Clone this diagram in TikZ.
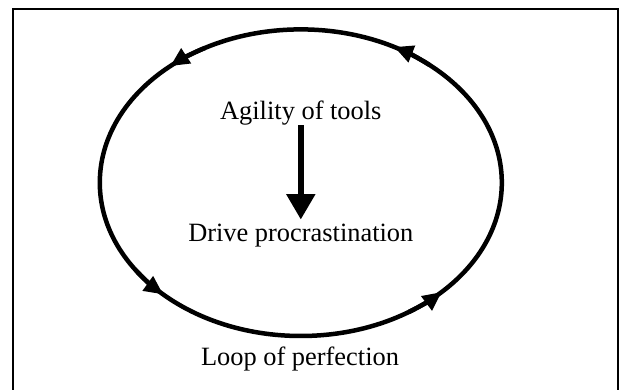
\documentclass[tikz,border=0pt]{standalone}
\usepackage{fontspec}
\setmainfont{Liberation Serif}
\usetikzlibrary{arrows.meta}
\begin{document}
\begin{tikzpicture}[x=1pt,y=1pt,
  lbl/.style={inner sep=0pt, anchor=base, font=\fontsize{26.4}{30}\selectfont},
  loopline/.style={line width=4.5pt},
  looptip/.style={line width=4.5pt, -{Triangle[length=19pt,width=17pt]}},
  flow/.style={line width=5.5pt, -{Triangle[length=25.5pt,width=28pt]}}]
\useasboundingbox (0,0) rectangle (620,390);
\draw[line width=2pt] (12.5,-2) -- (12.5,381) -- (618,381) -- (618,-2);
\coordinate (c) at (300.8,207.3);
\draw[loopline] (c) ellipse[x radius=201, y radius=153.3];
\foreach \s/\e in {50.3/62.3, 118.5/130.5, 214.8/226.8, 302.5/314.5}
  \draw[looptip] (c) ++(\s:201pt and 153.3pt) arc[start angle=\s, end angle=\e, x radius=201, y radius=153.3];
\node[lbl] (agility) at (300.8,270.7) {Agility of tools};
\node[lbl] (drive) at (300.8,148.3) {Drive procrastination};
\node[lbl] (loop) at (300,24) {Loop of perfection};
\draw[flow, shorten >=4.5pt] (agility.south) -- (drive.north);
\end{tikzpicture}
\end{document}
